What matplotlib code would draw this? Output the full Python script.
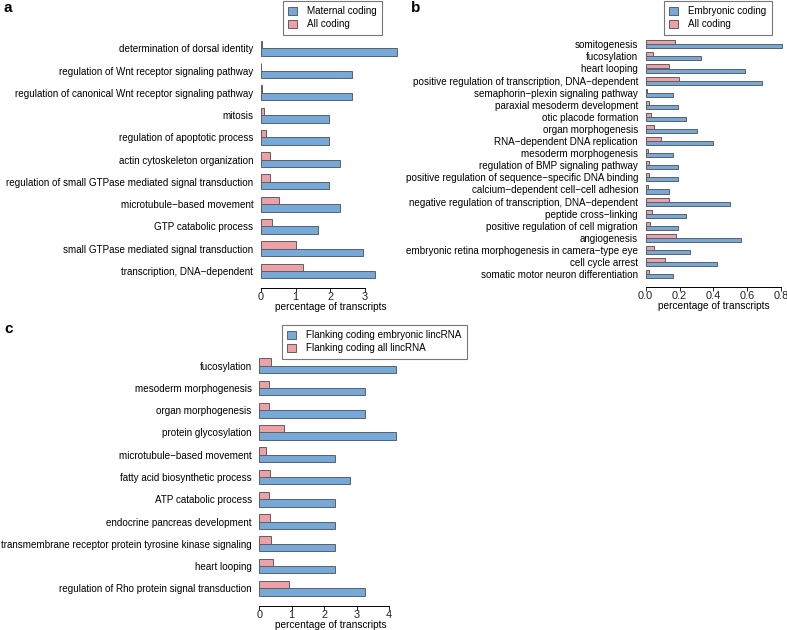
import matplotlib
matplotlib.use("Agg")
import matplotlib.pyplot as plt
from matplotlib.patches import Patch

plt.rcParams['font.family'] = ['Liberation Sans', 'DejaVu Sans']

# panel a
a_terms = ["determination of dorsal identity",
           "regulation of Wnt receptor signaling pathway",
           "regulation of canonical Wnt receptor signaling pathway",
           "mitosis",
           "regulation of apoptotic process",
           "actin cytoskeleton organization",
           "regulation of small GTPase mediated signal transduction",
           "microtubule\u2212based movement",
           "GTP catabolic process",
           "small GTPase mediated signal transduction",
           "transcription, DNA\u2212dependent"]
a_maternal = [3.91, 2.61, 2.61, 1.96, 1.96, 2.29, 1.96, 2.29, 1.63, 2.94, 3.28]
a_all = [0.03, 0.01, 0.02, 0.09, 0.14, 0.27, 0.27, 0.53, 0.31, 1.02, 1.22]

# panel b
b_terms = ["somitogenesis",
           "fucosylation",
           "heart looping",
           "positive regulation of transcription, DNA\u2212dependent",
           "semaphorin\u2212plexin signaling pathway",
           "paraxial mesoderm development",
           "otic placode formation",
           "organ morphogenesis",
           "RNA\u2212dependent DNA replication",
           "mesoderm morphogenesis",
           "regulation of BMP signaling pathway",
           "positive regulation of sequence\u2212specific DNA binding",
           "calcium\u2212dependent cell\u2212cell adhesion",
           "negative regulation of transcription, DNA\u2212dependent",
           "peptide cross\u2212linking",
           "positive regulation of cell migration",
           "angiogenesis",
           "embryonic retina morphogenesis in camera\u2212type eye",
           "cell cycle arrest",
           "somatic motor neuron differentiation"]
b_embryonic = [0.805, 0.33, 0.59, 0.686, 0.164, 0.19, 0.237, 0.306, 0.40, 0.164,
               0.19, 0.19, 0.14, 0.497, 0.237, 0.19, 0.564, 0.26, 0.424, 0.164]
b_all = [0.172, 0.045, 0.14, 0.197, 0.01, 0.018, 0.03, 0.051, 0.089, 0.012,
         0.02, 0.02, 0.012, 0.136, 0.036, 0.024, 0.177, 0.049, 0.114, 0.02]

# panel c
c_terms = ["fucosylation",
           "mesoderm morphogenesis",
           "organ morphogenesis",
           "protein glycosylation",
           "microtubule\u2212based movement",
           "fatty acid biosynthetic process",
           "ATP catabolic process",
           "endocrine pancreas development",
           "transmembrane receptor protein tyrosine kinase signaling",
           "heart looping",
           "regulation of Rho protein signal transduction"]
c_embryonic = [4.21, 3.27, 3.27, 4.21, 2.34, 2.81, 2.34, 2.34, 2.34, 2.34, 3.27]
c_all = [0.36, 0.29, 0.29, 0.75, 0.21, 0.32, 0.29, 0.32, 0.36, 0.41, 0.905]

BLUE = "#74aadb"
PINK = "#f0a0a5"
EDGE = "#5f5f5f"
FS = 7.15
W, H = 787, 630

fig = plt.figure(figsize=(W / 100, H / 100), dpi=100)


def px_axes(x0, top, w, h):
    return fig.add_axes([x0 / W, 1 - (top + h) / H, w / W, h / H])


def panel(x0, x_per_unit, first_center, spacing, terms, fg, bg, xmax, ticks,
          axis_y, labels, leg_box):
    n = len(terms)
    unit = spacing / 3.0
    top = first_center - 1.5 * unit
    h = 3 * n * unit
    ax = px_axes(x0, top, xmax * x_per_unit, h)
    ys = [3 * i for i in range(n)]
    ax.barh([y - 0.5 for y in ys], bg, height=1, color=PINK, edgecolor=EDGE, linewidth=0.7)
    ax.barh([y + 0.5 for y in ys], fg, height=1, color=BLUE, edgecolor=EDGE, linewidth=0.7)
    ax.set_ylim(3 * n - 1.5, -1.5)
    ax.set_xlim(0, xmax)
    ax.tick_params(axis='y', length=0, pad=5.5, labelsize=FS)
    ax.tick_params(axis='x', length=2.8, width=0.7, pad=0.1, colors='#222222', labelsize=7.9)
    ax.set_yticks(ys)
    ax.set_yticklabels(terms)
    ax.set_xticks(ticks)
    ax.set_xticklabels([labels(t) for t in ticks])
    for s in ['top', 'right', 'left']:
        ax.spines[s].set_visible(False)
    ax.spines['bottom'].set_position(('outward', (axis_y - (top + h)) * 0.72))
    ax.spines['bottom'].set_bounds(ticks[0], ticks[-1])
    ax.spines['bottom'].set_linewidth(0.7)
    ax.set_xlabel("percentage of transcripts", fontsize=7.3, labelpad=0.1)
    handles = [Patch(facecolor=BLUE, edgecolor=EDGE, linewidth=0.7),
               Patch(facecolor=PINK, edgecolor=EDGE, linewidth=0.7)]
    lx, ly, names = leg_box
    leg = fig.legend(handles, names, loc='upper left',
                     bbox_to_anchor=(lx / W, 1 - ly / H), bbox_transform=fig.transFigure,
                     fontsize=FS, frameon=True, fancybox=False, borderaxespad=0,
                     handlelength=0.85, handleheight=0.85, handletextpad=1.0,
                     labelspacing=0.3, borderpad=0.55)
    leg.get_frame().set_edgecolor('#555555')
    leg.get_frame().set_linewidth(0.8)
    return ax


panel(261, 34.7, 48.3, 22.27, a_terms, a_maternal, a_all, 4.0, [0, 1, 2, 3], 287.7,
      lambda t: str(t), (283, 1, ["Maternal coding", "All coding"]))
panel(645.7, 169.0, 44.3, 12.1, b_terms, b_embryonic, b_all, 0.81, [0, 0.2, 0.4, 0.6, 0.8], 287.3,
      lambda t: "%.1f" % t, (664, 1, ["Embryonic coding", "All coding"]))
panel(259.3, 32.4, 365.7, 22.26, c_terms, c_embryonic, c_all, 4.4, [0, 1, 2, 3, 4], 605.5,
      lambda t: str(t), (282, 325, ["Flanking coding embryonic lincRNA", "Flanking coding all lincRNA"]))

fig.text(3 / W, 1 - 1 / H, "a", fontsize=11, fontweight='bold', va='top', ha='left')
fig.text(411 / W, 1 - 1 / H, "b", fontsize=11, fontweight='bold', va='top', ha='left')
fig.text(4 / W, 1 - 322 / H, "c", fontsize=11, fontweight='bold', va='top', ha='left')

fig.savefig("out.png", dpi=100)
